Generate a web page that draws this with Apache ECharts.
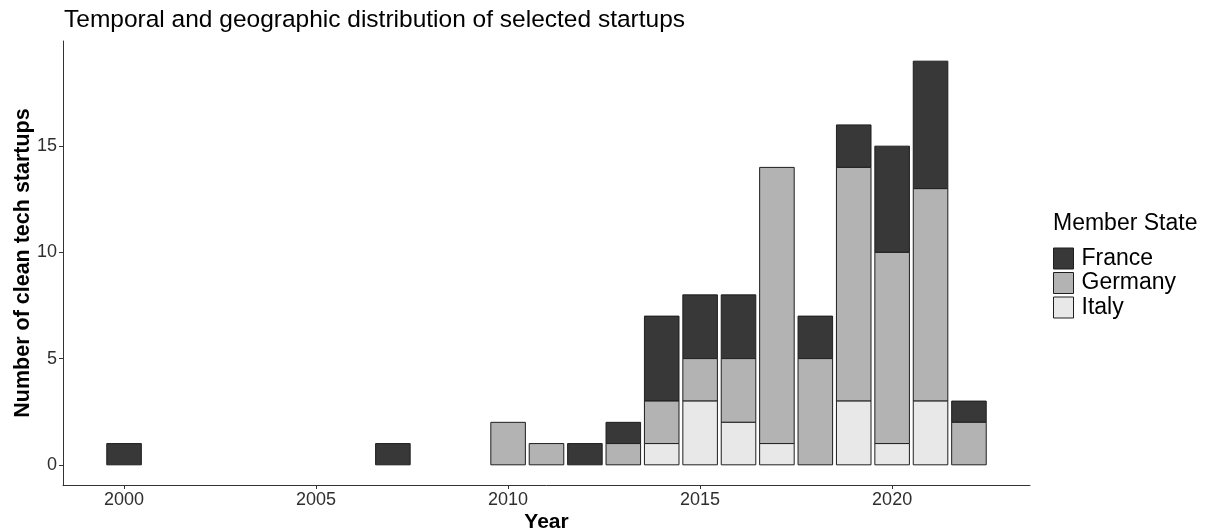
<!DOCTYPE html>
<html>
<head>
<meta charset="utf-8">
<script src="https://cdn.jsdelivr.net/npm/echarts@6/dist/echarts.min.js"></script>
<style>
html,body{margin:0;padding:0;background:#fff;}
#chart{width:1212px;height:532px;}
</style>
</head>
<body>
<div id="chart"></div>
<script>
var years   = [2000, 2007, 2010, 2011, 2012, 2013, 2014, 2015, 2016, 2017, 2018, 2019, 2020, 2021, 2022];
var italy   = [0, 0, 0, 0, 0, 0, 1, 3, 2, 1, 0, 3, 1, 3, 0];
var germany = [0, 0, 2, 1, 0, 1, 2, 2, 3, 13, 5, 11, 9, 10, 2];
var france  = [1, 1, 0, 0, 1, 1, 4, 3, 3, 0, 2, 2, 5, 6, 1];
var xTicks  = [2000, 2005, 2010, 2015, 2020];
var yTicks  = [0, 5, 10, 15];
var seriesNames = ['France', 'Germany', 'Italy'];

var FONT = '"Liberation Sans", Arial, sans-serif';
var colors = {France: '#383838', Germany: '#B3B3B3', Italy: '#E8E8E8'};

// stack bottom-up: Italy, Germany, France
var stackOrder = [['Italy', italy], ['Germany', germany], ['France', france]];
var base = years.map(function(){ return 0; });
var stacked = {};
stackOrder.forEach(function(p){
  var name = p[0], vals = p[1], arr = [];
  years.forEach(function(y, i){
    if (vals[i] > 0) arr.push([y, base[i], base[i] + vals[i]]);
    base[i] += vals[i];
  });
  stacked[name] = arr;
});

function makeSeries(name){
  return {
    name: name,
    type: 'custom',
    itemStyle: {color: colors[name], borderColor: '#1e1e1e', borderWidth: 1},
    encode: {x: 0, y: [1, 2]},
    data: stacked[name],
    renderItem: function(params, api){
      var x = api.value(0), y0 = api.value(1), y1 = api.value(2);
      var a = api.coord([x - 0.45, y1]);
      var b = api.coord([x + 0.45, y0]);
      return {
        type: 'rect',
        shape: {x: a[0], y: a[1], width: b[0] - a[0], height: b[1] - a[1]},
        style: {fill: colors[name], stroke: '#1e1e1e', lineWidth: 1}
      };
    }
  };
}

var chart = echarts.init(document.getElementById('chart'), null, {renderer: 'canvas'});
chart.setOption({
  animation: false,
  backgroundColor: '#fff',
  title: {
    text: 'Temporal and geographic distribution of selected startups',
    left: 59, top: 3,
    textStyle: {fontFamily: FONT, fontSize: 24.5, fontWeight: 'normal', color: '#000'}
  },
  grid: {left: 63, right: 182, top: 41, bottom: 47, containLabel: false, outerBoundsMode: 'none'},
  xAxis: {
    type: 'value',
    min: 1998.41, max: 2023.59,
    name: 'Year', nameLocation: 'middle', nameGap: 27, nameMoveOverlap: false,
    nameTextStyle: {fontFamily: FONT, fontSize: 21, fontWeight: 'bold', color: '#000'},
    splitLine: {show: false},
    axisLine: {show: true, onZero: false, lineStyle: {color: '#333', width: 1}},
    axisTick: {show: true, length: 4, lineStyle: {color: '#333'}, customValues: xTicks},
    axisLabel: {fontFamily: FONT, fontSize: 18, color: '#2e2e2e', margin: 6, customValues: xTicks,
      formatter: function(v){ return String(v); }}
  },
  yAxis: {
    type: 'value',
    min: -0.95, max: 19.95,
    name: 'Number of clean tech startups', nameLocation: 'middle', nameGap: 29, nameMoveOverlap: false,
    nameTextStyle: {fontFamily: FONT, fontSize: 21.5, fontWeight: 'bold', color: '#000'},
    splitLine: {show: false},
    axisLine: {show: true, onZero: false, lineStyle: {color: '#333', width: 1}},
    axisTick: {show: true, length: 4, lineStyle: {color: '#333'}, customValues: yTicks},
    axisLabel: {fontFamily: FONT, fontSize: 18, color: '#2e2e2e', margin: 6, customValues: yTicks,
      formatter: function(v){ return String(v); }}
  },
  legend: {
    orient: 'vertical',
    left: 1048, top: 242,
    itemWidth: 20, itemHeight: 21, itemGap: 1.5,
    icon: 'rect',
    data: seriesNames,
    itemStyle: {borderColor: '#1e1e1e', borderWidth: 1},
    textStyle: {fontFamily: FONT, fontSize: 23, lineHeight: 21, color: '#000', padding: [0, 0, 0, 3]}
  },
  graphic: [{
    type: 'text', left: 1053, top: 212,
    style: {text: 'Member State', font: '23px ' + FONT, fill: '#000'}
  }],
  series: seriesNames.map(makeSeries)
});
</script>
</body>
</html>
